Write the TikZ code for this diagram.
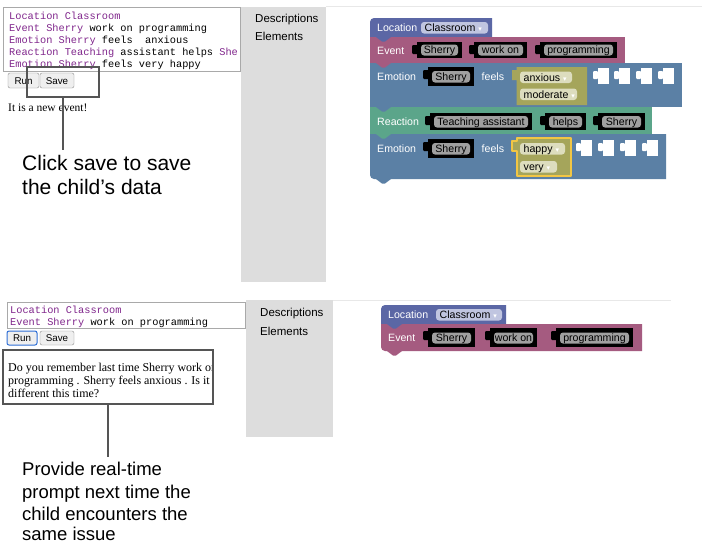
\documentclass[tikz,border=0pt]{standalone}
\usepackage{fontspec}
\setmainfont{Liberation Serif}
\setsansfont{Liberation Sans}
\setmonofont{Liberation Mono}
\newfontfamily\arrowfont{DejaVu Sans}
\definecolor{codepurple}{RGB}{128,38,140}
\definecolor{taborder}{HTML}{A9A9A9}
\definecolor{panelgray}{HTML}{DDDDDD}
\definecolor{sepgray}{HTML}{E8E8E8}
\definecolor{calloutgray}{HTML}{555555}
\definecolor{btnfill}{HTML}{EFEFEF}
\definecolor{btnborder}{HTML}{8F8F8F}
\definecolor{btnblue}{HTML}{2F6FD6}
\definecolor{locc}{RGB}{91,103,165}
\definecolor{evtc}{RGB}{165,91,128}
\definecolor{emoc}{RGB}{91,128,165}
\definecolor{reac}{RGB}{91,165,138}
\definecolor{olivec}{RGB}{165,165,91}
\definecolor{fldgray}{HTML}{A0A0A0}
\definecolor{locfld}{RGB}{192,197,224}
\definecolor{olivefld}{RGB}{221,221,190}
\definecolor{hiyellow}{RGB}{242,198,68}

\tikzset{
 codeline/.style={font=\ttfamily\fontsize{10.3}{12}\selectfont, inner sep=0pt, anchor=base west},
 btnbox/.style={draw=btnborder, fill=btnfill, rounded corners=2pt, inner sep=0pt, minimum height=15pt, font=\sffamily\fontsize{9.8}{11}\selectfont, text height=7pt, text depth=0pt},
 serifline/.style={font=\rmfamily\fontsize{11.5}{13}\selectfont, inner sep=0pt, anchor=base west},
 promptline/.style={font=\rmfamily\fontsize{12}{13}\selectfont, inner sep=0pt, anchor=base west},
 calloutbox/.style={draw=calloutgray, line width=2pt, inner sep=0pt},
 calloutline/.style={draw=calloutgray, line width=2pt},
 bigtxt/.style={font=\sffamily\fontsize{21}{24}\selectfont, inner sep=0pt, anchor=base west},
 midtxt/.style={font=\sffamily\fontsize{18.5}{22}\selectfont, inner sep=0pt, anchor=base west},
 paneltxt/.style={font=\sffamily\fontsize{11.5}{13}\selectfont, inner sep=0pt, anchor=base west},
 blklabel/.style={font=\sffamily\fontsize{10.6}{12}\selectfont, text=white, inner sep=0pt, anchor=base west},
 fldtxt/.style={font=\sffamily\fontsize{10.6}{12}\selectfont, inner sep=0pt, text height=7.6pt, text depth=0pt},
 textareabox/.style={draw=taborder, line width=0.8pt},
}

% black value slot: name, x1, x2, y1, y2, field y1, field y2, text
\newcommand\BkSlot[8]{%
  \fill[black] (#2,#4) rectangle (#3,#5);
  \fill[black,rounded corners=1.2pt] (#2+1,#4+3) -- (#2-5,#4+3) -- (#2-5,#4+12) -- (#2+1,#4+12) -- cycle;
  \fill[fldgray,rounded corners=3pt] (#2+4,#6) rectangle (#3-4,#7);
  \node[fldtxt] (#1) at ({(#2+#3)/2},{(#6+#7)/2}) {#8};}
% dropdown field: name, x1, x2, y1, y2, fill, text
\newcommand\BkDrop[7]{%
  \fill[#6,rounded corners=3pt] (#2,#4) rectangle (#3,#5);
  \node[fldtxt,anchor=west] (#1) at (#2+3.5,{(#4+#5)/2}) {#7\hspace{3pt}{\arrowfont\fontsize{7}{7}\selectfont\textcolor{white}{▾}}};}
% empty inline input hole: x, y
\newcommand\BkHole[2]{%
  \fill[white] (#1+4.5,#2) rectangle (#1+16,#2+16);
  \fill[white,rounded corners=1pt] (#1+5,#2+3) -- (#1,#2+3) -- (#1,#2+11) -- (#1+5,#2+11) -- cycle;}
% next-statement tab: colour, x, y
\newcommand\BkTab[3]{%
  \fill[#1] (#2,#3-0.6) -- (#2,#3) -- (#2+6,#3+4.5) -- (#2+9,#3+4.5) -- (#2+15,#3) -- (#2+15,#3-0.6) -- cycle;}
% olive inner block: x2, y1, y2, style
\newcommand\BkOlive[4]{%
  \path[#4] (516.5,#2) -- (#1,#2) -- (#1,#3) -- (516.5,#3) -- (516.5,#2+13) -- (512,#2+13) -- (512,#2+3) -- (516.5,#2+3) -- cycle;}

\begin{document}
\begin{tikzpicture}[x=1pt,y=-1pt]
\useasboundingbox (0,0) rectangle (702,542);
\fill[white] (0,0) rectangle (702,542);

%================ TOP PANEL =================
\fill[panelgray] (241,7) rectangle (326,282);
\node[paneltxt] (desc1) at (255,22.5) {Descriptions};
\node[paneltxt] (elem1) at (255,40.5) {Elements};
\draw[sepgray, line width=1pt] (326,6.5) -- (702,6.5);

\draw[textareabox] (3,7) rectangle (240,71);
\node[codeline] (ta1) at (9,19) {\textcolor{codepurple}{Location Classroom}};
\node[codeline] (ta2) at (9,31) {\textcolor{codepurple}{Event Sherry} work on programming};
\node[codeline] (ta3) at (9,43) {\textcolor{codepurple}{Emotion Sherry} feels\ \ anxious};
\node[codeline] (ta4) at (9,55) {\textcolor{codepurple}{Reaction Teaching} assistant helps \textcolor{codepurple}{She}};
\node[codeline] (ta5) at (9,67) {\textcolor{codepurple}{Emotion Sherry} feels very happy};

\node[btnbox, minimum width=31pt] (run1) at (23.5,80.5) {Run};
\node[btnbox, minimum width=34pt] (save1) at (57,80.5) {Save};

\node[serifline] (newev) at (8,111.5) {It is a new event!};

\node[calloutbox, minimum width=72pt, minimum height=30pt] (cb1) at (63,82) {};
\coordinate (ce1) at (63,150);
\draw[calloutline] (cb1.south) -- (ce1);

\node[bigtxt] (click1) at (22,170.7) {Click save to save};
\node[bigtxt] (click2) at (22,194.3) {the child’s data};

% ---- blocks (top)
\fill[locc] (370,37) -- (370,22) arc[start angle=180, end angle=270, radius=4] -- (492,18) -- (492,37) -- cycle;
\fill[evtc] (370,37) rectangle (625,63);
\fill[emoc] (370,63) rectangle (682,107);
\fill[reac] (370,107) rectangle (652,134);
\fill[emoc] (370,134) -- (666,134) -- (666,179) -- (374,179) arc[start angle=90, end angle=180, radius=4] -- cycle;
\BkTab{locc}{376}{37}
\BkTab{evtc}{376}{63}
\BkTab{emoc}{376}{107}
\BkTab{reac}{376}{134}
\BkTab{emoc}{376}{179}

\node[blklabel] (locl1) at (377,31.5) {Location};
\BkDrop{locf1}{421}{488}{22}{33.5}{locfld}{Classroom}

\node[blklabel] (evtl1) at (377,54.5) {Event};
\BkSlot{ev1a}{417}{462}{42}{58}{44.5}{55.5}{Sherry}
\BkSlot{ev1b}{474}{527}{42}{58}{44.5}{55.5}{work on}
\BkSlot{ev1c}{540}{617}{42}{58}{44.5}{55.5}{programming}

\node[blklabel] (emol1) at (377,80.3) {Emotion};
\BkSlot{em1a}{428}{474}{67}{86}{71}{82.5}{Sherry}
\node[blklabel] (feel1) at (481.5,80.3) {feels};
\BkOlive{587}{67}{105}{fill=olivec}
\BkDrop{anx1}{520}{572}{71.5}{83}{olivefld}{anxious}
\BkDrop{mod1}{520}{577}{88.5}{100}{olivefld}{moderate}
\BkHole{593}{68}
\BkHole{614}{68}
\BkHole{636}{68}
\BkHole{658}{68}

\node[blklabel] (real1) at (377,125.5) {Reaction};
\BkSlot{re1a}{430}{532}{113}{130}{116}{127.5}{Teaching assistant}
\BkSlot{re1b}{545}{586}{113}{130}{116}{127.5}{helps}
\BkSlot{re1c}{598}{645}{113}{130}{116}{127.5}{Sherry}

\node[blklabel] (emol2) at (377,152.4) {Emotion};
\BkSlot{em2a}{428}{474}{139}{158}{143}{154.5}{Sherry}
\node[blklabel] (feel2) at (481.5,152.4) {feels};
\BkOlive{571}{138}{176}{fill=olivec, draw=hiyellow, line width=2pt, line join=round}
\BkDrop{hap2}{520}{565}{143}{154.5}{olivefld}{happy}
\BkDrop{ver2}{520}{557}{161}{172.5}{olivefld}{very}
\BkHole{576}{140}
\BkHole{598}{140}
\BkHole{620}{140}
\BkHole{642}{140}

%================ BOTTOM PANEL =================
\fill[panelgray] (246,300) rectangle (333,437);
\node[paneltxt] (desc2) at (260,316.7) {Descriptions};
\node[paneltxt] (elem2) at (260,335) {Elements};
\draw[sepgray, line width=1pt] (333,300.5) -- (671,300.5);

\draw[textareabox] (7,302) rectangle (245,328);
\node[codeline] (tb1) at (10,313) {\textcolor{codepurple}{Location Classroom}};
\node[codeline] (tb2) at (10,325) {\textcolor{codepurple}{Event Sherry} work on programming};

\node[btnbox, draw=btnblue, line width=1pt, minimum width=30pt, minimum height=14pt] (run2) at (22,338) {Run};
\node[btnbox, minimum width=34pt, minimum height=14pt] (save2) at (57,338) {Save};

\begin{scope}
\clip (4,351) rectangle (212,403);
\node[promptline] (pr1) at (8,371.5) {Do you remember last time Sherry work on};
\node[promptline] (pr2) at (8,384.3) {programming . Sherry feels anxious . Is it};
\node[promptline] (pr3) at (8,397) {different this time?};
\end{scope}
\node[calloutbox, minimum width=210pt, minimum height=54pt] (cb2) at (108,377) {};
\coordinate (ce2) at (108,457);
\draw[calloutline] (cb2.south) -- (ce2);

\node[midtxt] (prov1) at (22,475.5) {Provide real-time};
\node[midtxt] (prov2) at (22,498) {prompt next time the};
\node[midtxt] (prov3) at (22,520.5) {child encounters the};
\node[midtxt] (prov4) at (22,540) {same issue};

% ---- blocks (bottom)
\fill[locc] (381,324) -- (381,309) arc[start angle=180, end angle=270, radius=4] -- (506,305) -- (506,324) -- cycle;
\fill[evtc] (381,324) -- (642,324) -- (642,351) -- (385,351) arc[start angle=90, end angle=180, radius=4] -- cycle;
\BkTab{locc}{387}{324}
\BkTab{evtc}{387}{351}

\node[blklabel] (locl2) at (388,318.3) {Location};
\BkDrop{locf2}{436}{502}{309}{320.5}{locfld}{Classroom}

\node[blklabel] (evtl2) at (388,341.7) {Event};
\BkSlot{ev2a}{428}{475}{328}{347}{332.5}{343.5}{Sherry}
\BkSlot{ev2b}{490}{537}{328}{347}{332.5}{343.5}{work on}
\BkSlot{ev2c}{556}{633}{328}{347}{332.5}{343.5}{programming}
\end{tikzpicture}
\end{document}
